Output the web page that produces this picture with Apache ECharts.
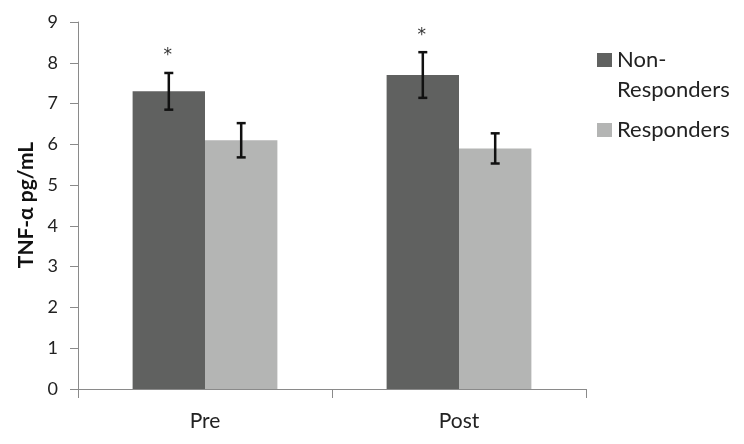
<!DOCTYPE html>
<html>
<head>
<meta charset="utf-8">
<script src="https://cdn.jsdelivr.net/npm/echarts@6/dist/echarts.min.js"></script>
<style>
html,body{margin:0;padding:0;background:#fff;}
#chart{width:744px;height:444px;}
</style>
</head>
<body>
<div id="chart"></div>
<script>
// ---- data ----
const categories = ['Pre', 'Post'];
const seriesNames = ['Non-Responders', 'Responders'];
const nonResponders = [7.3, 7.7];
const responders = [6.1, 5.9];
const nonRespErr = [0.45, 0.56];
const respErr = [0.42, 0.37];
const nonRespSig = [true, true];
const respSig = [false, false];
const yAxisTitle = 'TNF-α pg/mL';

// ---- style ----
const FONT = 'Lato';
const darkColor = '#606160';
const lightColor = '#b4b5b4';
const axisColor = '#8a8a8a';
const textColor = '#222222';
const CAT_GAP = 0.43;

const errData = [];
categories.forEach((c, i) => {
  errData.push([i, nonResponders[i], nonRespErr[i], -1, nonRespSig[i] ? 1 : 0]);
  errData.push([i, responders[i], respErr[i], 1, respSig[i] ? 1 : 0]);
});

const chart = echarts.init(document.getElementById('chart'), null, {renderer: 'canvas'});

const option = {
  animation: false,
  backgroundColor: '#ffffff',
  textStyle: {fontFamily: FONT},
  grid: {left: 78, right: 158, top: 22, bottom: 55, containLabel: false},
  legend: [
    {
      data: [seriesNames[0]],
      orient: 'vertical',
      left: 597, top: 15, padding: 0,
      itemWidth: 15, itemHeight: 14,
      icon: 'rect',
      formatter: () => '\nNon-\nResponders',
      textStyle: {fontFamily: FONT, fontSize: 22, color: textColor, lineHeight: 30}
    },
    {
      data: [seriesNames[1]],
      orient: 'vertical',
      left: 597, top: 115, padding: 0,
      itemWidth: 15, itemHeight: 14,
      icon: 'rect',
      textStyle: {fontFamily: FONT, fontSize: 22, color: textColor, lineHeight: 30}
    }
  ],
  xAxis: {
    type: 'category',
    data: categories,
    boundaryGap: true,
    axisLine: {lineStyle: {color: axisColor, width: 1}},
    axisTick: {show: true, length: 9, alignWithLabel: false, lineStyle: {color: axisColor}},
    axisLabel: {fontFamily: FONT, fontSize: 21, color: textColor, margin: 22}
  },
  yAxis: {
    type: 'value',
    min: 0, max: 9, interval: 1,
    splitLine: {show: false},
    axisLine: {show: true, lineStyle: {color: axisColor, width: 1}},
    axisTick: {show: true, length: 8, lineStyle: {color: axisColor}},
    axisLabel: {fontFamily: FONT, fontSize: 18, color: textColor, margin: 20}
  },
  graphic: [{
    type: 'text',
    x: 26, y: 205,
    rotation: Math.PI / 2,
    style: {
      text: yAxisTitle,
      fontFamily: FONT, fontSize: 21, fontWeight: 'bold', fill: '#111',
      align: 'center', verticalAlign: 'middle'
    }
  }],
  series: [
    {
      name: seriesNames[0], type: 'bar', data: nonResponders,
      itemStyle: {color: darkColor},
      barGap: '0%', barCategoryGap: (CAT_GAP * 100) + '%'
    },
    {
      name: seriesNames[1], type: 'bar', data: responders,
      itemStyle: {color: lightColor},
      barGap: '0%', barCategoryGap: (CAT_GAP * 100) + '%'
    },
    {
      type: 'custom',
      z: 10,
      data: errData,
      encode: {x: 0, y: 1},
      renderItem: function (params, api) {
        const cat = api.value(0), mean = api.value(1), err = api.value(2);
        const side = api.value(3), sig = api.value(4);
        const band = api.size([1, 0])[0];
        const barW = band * (1 - CAT_GAP) / 2;
        const cx = api.coord([cat, mean])[0] + side * barW / 2;
        const yTop = api.coord([cat, mean + err])[1];
        const yBot = api.coord([cat, mean - err])[1];
        const cap = 4.5;
        const ls = {stroke: '#111', lineWidth: 2.5};
        const children = [
          {type: 'line', shape: {x1: cx, y1: yTop, x2: cx, y2: yBot}, style: ls},
          {type: 'line', shape: {x1: cx - cap, y1: yTop, x2: cx + cap, y2: yTop}, style: ls},
          {type: 'line', shape: {x1: cx - cap, y1: yBot, x2: cx + cap, y2: yBot}, style: ls}
        ];
        if (sig) {
          children.push({
            type: 'text',
            style: {
              text: '*', x: cx - 1, y: yTop - 17,
              fontFamily: 'DejaVu Sans', fontSize: 17, fill: '#333',
              align: 'center', verticalAlign: 'middle'
            }
          });
        }
        return {type: 'group', children: children};
      }
    }
  ]
};
chart.setOption(option);
</script>
</body>
</html>
